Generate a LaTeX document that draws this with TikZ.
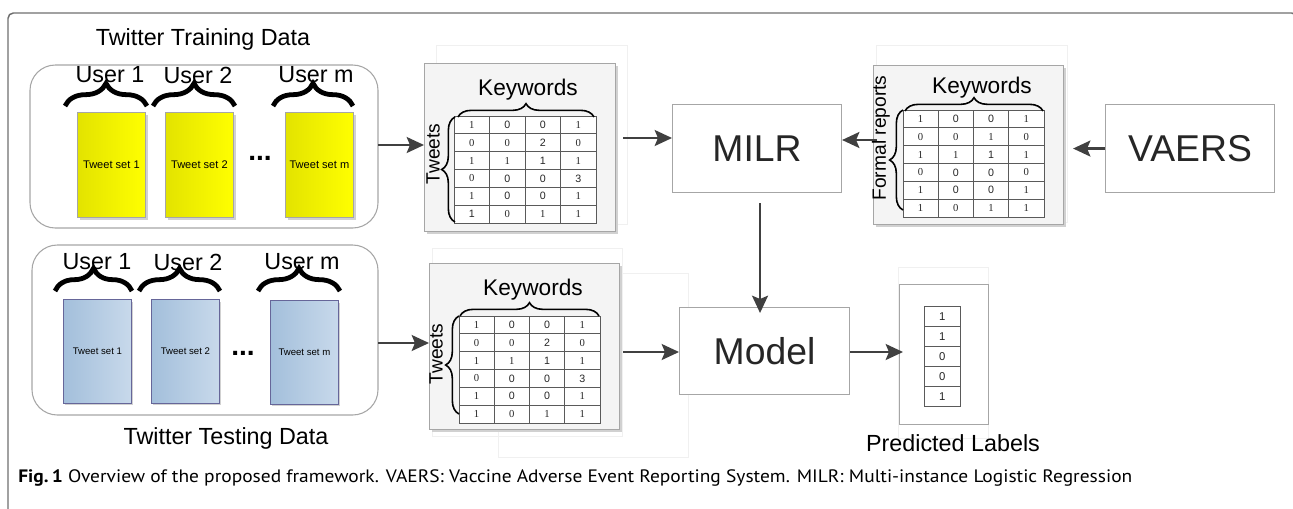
\documentclass[tikz,border=0pt]{standalone}
\usepackage{fontspec}
\setmainfont{Liberation Sans}
\newfontfamily\serifnum{Liberation Serif}
\newfontfamily\capfont{PT Sans}
\usetikzlibrary{arrows.meta,decorations.pathreplacing,calc}

\definecolor{txt}{HTML}{262626}
\definecolor{arrowcol}{HTML}{404040}
\definecolor{boxline}{HTML}{A6A6A6}
\definecolor{frameline}{HTML}{6E6E6E}
\definecolor{yelL}{HTML}{E3E300}
\definecolor{yelR}{HTML}{FFFF00}
\definecolor{bluL}{HTML}{A3BFDB}
\definecolor{bluR}{HTML}{C8D9EB}
\definecolor{gridcol}{HTML}{5A5A5A}
\definecolor{matfill}{HTML}{F4F4F4}

\tikzset{
  arr/.style={draw=arrowcol, line width=1.7pt,
    -{Stealth[length=13pt,width=12pt,inset=2.5pt]}},
  plainbox/.style={draw=boxline, line width=0.8pt, fill=white,
    inner sep=0pt, anchor=north west},
  container/.style={draw=boxline, line width=0.8pt, rounded corners=19pt},
  yellowset/.style={draw=gray!70, line width=0.6pt, left color=yelL,
    right color=yelR, inner sep=0pt, anchor=north west},
  blueset/.style={draw=gray!80!blue, line width=0.6pt, left color=bluL,
    right color=bluR, inner sep=0pt, anchor=north west},
  matbox/.style={draw=boxline, line width=0.8pt, fill=matfill,
    inner sep=0pt, anchor=north west},
  faint/.style={draw=black!6, line width=0.6pt},
  shadow/.style={fill=black!18, draw=none},
  gridline/.style={draw=gridcol, line width=0.55pt},
  cell/.style={font=\fontsize{8}{9}\selectfont, text=txt, inner sep=0pt},
  userbrace/.style={decorate, decoration={brace, amplitude=17pt},
    line width=3.6pt, draw=black},
  kwbrace/.style={decorate, decoration={brace, amplitude=10pt},
    line width=1.2pt, draw=black},
  bigtitle/.style={font=\fontsize{17.5}{20}\selectfont, text=black, inner sep=0pt},
  kwlabel/.style={font=\fontsize{17}{20}\selectfont, text=black, inner sep=0pt},
  sidelabel/.style={font=\fontsize{14.4}{16}\selectfont, text=black,
    rotate=90, inner sep=0pt},
  hugelabel/.style={font=\fontsize{28}{32}\selectfont, text=txt},
  dots/.style={font=\fontsize{21}{24}\selectfont\bfseries, text=black, inner sep=0pt},
}

% keyword count matrix: name, x0, y0, x1, y1, rows
\newcommand\kwgrid[6]{%
  \pgfmathsetmacro\kwcw{(#4-#2)/4}%
  \pgfmathsetmacro\kwrh{(#5-#3)/6}%
  \draw[gridline, fill=white] (#2,#3) rectangle (#4,#5);
  \foreach \k in {1,2,3} \draw[gridline] ({#2+\k*\kwcw},#3) -- ({#2+\k*\kwcw},#5);
  \foreach \k in {1,...,5} \draw[gridline] (#2,{#3+\k*\kwrh}) -- (#4,{#3+\k*\kwrh});
  \foreach \row [count=\r] in {#6} {
    \foreach \e [count=\c] in \row
      \node[cell] (#1-\r-\c) at ({#2+(\c-0.5)*\kwcw},{#3+(\r-0.5)*\kwrh}) {\e};
  }%
}
\newcommand\sn{\serifnum}

\begin{document}
\begin{tikzpicture}[x=0.75pt, y=-0.75pt]
\useasboundingbox (0,0) rectangle (1293,508);

% outer figure frame
\draw[frameline, line width=1.1pt, rounded corners=4pt]
  (8,530) -- (8,13) -- (1297,13) -- (1297,530);

% ---------------- training data ----------------
\node[bigtitle] (trtitle) at (203,39) {Twitter Training Data};
\draw[container] (30,65) rectangle (378,228);
\coordinate (trbox-e) at (378,145);

\foreach \n/\x/\lx/\bl/\br/\lab/\ts in {
    1/77/110/65/147/User 1/Tweet set 1,
    2/165/198/153/235/User 2/Tweet set 2,
    m/285/316/273/353/User m/Tweet set m} {
  \fill[shadow] (\x+3,115) rectangle (\x+71,220);
  \node[yellowset, minimum width=68*0.75pt, minimum height=105*0.75pt]
    (tr\n) at (\x,112) {};
  \node[font=\fontsize{8.3}{10}\selectfont, text=black] (trt\n) at (tr\n.center) {\ts};
  \node[bigtitle] (tru\n) at (\lx,75) {\lab};
  \draw[userbrace] (\bl,106) -- (\br,106);
}
\node[dots] (trdots) at (260,158) {...};

% ---------------- testing data ----------------
\draw[container] (32,245) rectangle (378,415);
\node[bigtitle] (tetitle) at (226,438) {Twitter Testing Data};

\foreach \n/\x/\y/\lx/\bl/\br/\lab/\ts in {
    1/63/299/97/55/132/User 1/Tweet set 1,
    2/151/299/188/139/220/User 2/Tweet set 2,
    m/270/300/302/258/340/User m/Tweet set m} {
  \fill[shadow] (\x+2,\y+3) rectangle (\x+70,\y+106);
  \node[blueset, minimum width=68*0.75pt, minimum height=104*0.75pt]
    (te\n) at (\x,\y) {};
  \node[font=\fontsize{7.2}{9}\selectfont, text=black] (tet\n) at (te\n.center) {\ts};
  \node[bigtitle] (teu\n) at (\lx,262) {\lab};
  \draw[userbrace] (\bl,291) -- (\br,291);
}
\node[dots] (tedots) at (243,353) {...};

% ---------------- training keyword matrix ----------------
\draw[faint] (436,45) rectangle (627,224);
\fill[shadow] (427,66) rectangle (618,234);
\node[matbox, minimum width=191*0.75pt, minimum height=168*0.75pt] (mat1) at (424,63) {};
\kwgrid{ma}{454}{116}{596}{223}{%
  {\sn 1,0,0,\sn 1},{\sn 0,\sn 0,2,\sn 0},{\sn 1,\sn 1,1,\sn 1},
  {\sn 0,0,0,3},{\sn 1,0,0,\sn 1},{1,\sn 0,\sn 1,\sn 1}}
\node[kwlabel] (kw1) at (528,90) {Keywords};
\draw[kwbrace] (458,117) -- (594,117);
\node[sidelabel] (tw1) at (433,154) {Tweets};
\draw[kwbrace] (455,222) -- (455,117);

% ---------------- testing keyword matrix ----------------
\draw[faint] (432,248) rectangle (622,436);
\draw[faint] (498,273) rectangle (688,457);
\fill[shadow] (432,266) rectangle (622,432);
\node[matbox, minimum width=190*0.75pt, minimum height=166*0.75pt] (mat2) at (429,263) {};
\kwgrid{mb}{459}{316}{600}{423}{%
  {\sn 1,0,0,\sn 1},{\sn 0,\sn 0,2,\sn 0},{\sn 1,\sn 1,1,\sn 1},
  {\sn 0,0,0,3},{\sn 1,0,0,\sn 1},{\sn 1,\sn 0,\sn 1,\sn 1}}
\node[kwlabel] (kw2) at (533,290) {Keywords};
\draw[kwbrace] (460,316) -- (599,316);
\node[sidelabel] (tw2) at (436,354) {Tweets};
\draw[kwbrace] (459,414) -- (459,316);

% ---------------- formal reports matrix ----------------
\draw[faint] (876,45) rectangle (1067,222);
\fill[shadow] (876,68) rectangle (1066,227);
\node[matbox, minimum width=190*0.75pt, minimum height=159*0.75pt] (mat3) at (873,65) {};
\kwgrid{mc}{903}{110}{1044}{217}{%
  {\sn 1,0,0,\sn 1},{\sn 0,\sn 0,\sn 1,\sn 0},{\sn 1,\sn 1,1,\sn 1},
  {\sn 0,0,0,\sn 0},{\sn 1,0,0,\sn 1},{\sn 1,\sn 0,\sn 1,\sn 1}}
\node[kwlabel] (kw3) at (982,88) {Keywords};
\draw[kwbrace] (905,111) -- (1043,111);
\node[sidelabel] (fr) at (881,138) {Formal reports};
\draw[kwbrace] (903,210) -- (903,110);

% ---------------- MILR, VAERS, Model ----------------
\node[plainbox, minimum width=169*0.75pt, minimum height=88*0.75pt] (milr) at (672,104) {};
\node[hugelabel] (milrt) at (milr.center) {MILR};
\node[plainbox, minimum width=169*0.75pt, minimum height=88*0.75pt] (vaers) at (1105,104) {};
\node[hugelabel] (vaerst) at (vaers.center) {VAERS};
\node[plainbox, minimum width=170*0.75pt, minimum height=87*0.75pt] (model) at (679,307) {};
\node[hugelabel] (modelt) at (model.center) {Model};

% ---------------- predicted labels ----------------
\draw[faint] (898,267) rectangle (988,438);
\node[plainbox, minimum width=89*0.75pt, minimum height=140*0.75pt] (pred) at (899,284) {};
\foreach \v [count=\i] in {1,1,0,0,1} {
  \node[draw=gridcol, line width=0.55pt, fill=white, anchor=north west,
    minimum width=36*0.75pt, minimum height=20*0.75pt, inner sep=0pt,
    font=\fontsize{8.5}{10}\selectfont, text=txt]
    (pl\i) at (924,{306+(\i-1)*20}) {\v};
}
\node[bigtitle] (predt) at (953,443) {Predicted Labels};

% ---------------- connectors ----------------
\draw[arr] (trbox-e) -- (mat1.west |- trbox-e);
\coordinate (tebox-e) at (378,343);
\draw[arr] (tebox-e) -- (mat2.west |- tebox-e);
\draw[arr] ([xshift=7*0.75pt]mat1.east |- 0,138) -- (milr.west |- 0,138);
\draw[arr] (vaers.west) -- ([xshift=9*0.75pt]mat3.east |- vaers.west);
\draw[arr] ([xshift=4*0.75pt]mat3.west |- 0,140) -- (milr.east |- 0,140);
\draw[arr] ([xshift=3*0.75pt]milr.south |- 0,203) -- ([xshift=3*0.75pt]milr.south |- 0,313);
\draw[arr] ([xshift=3*0.75pt]mat2.east |- 0,352) -- (model.west |- 0,352);
\draw[arr] (model.east |- 0,352) -- ([xshift=4*0.75pt]pred.west |- 0,352);

% ---------------- caption ----------------
\node[anchor=west, inner sep=0pt, font=\capfont\fontsize{13.5}{15}\selectfont, text=black]
  (caption) at (18,478)
  {\scalebox{1.08}[1]{\textbf{Fig.\,1} Overview of the proposed framework. VAERS: Vaccine Adverse Event Reporting System. MILR: Multi-instance Logistic Regression}};
\end{tikzpicture}
\end{document}
